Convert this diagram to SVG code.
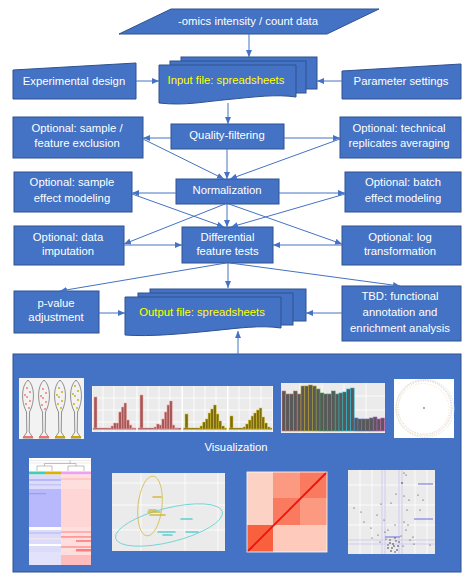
<svg xmlns="http://www.w3.org/2000/svg" width="472" height="581" viewBox="0 0 472 581">
<style>
.box{fill:#4472C4;stroke:#2F528F;stroke-width:1}
.t{font-family:"Liberation Sans",Arial,sans-serif;font-size:11.3px;fill:#ffffff;text-anchor:middle}
.yl{fill:#ffff00}
.c{stroke:#4472C4;stroke-width:1;fill:none;marker-end:url(#ah)}
.bg{fill:#ebebeb}
.gw{stroke:#ffffff;stroke-width:0.8}
.vio{fill:none;stroke:#666;stroke-width:0.7}
.hr{fill:#a55858;stroke:#f3a3a3;stroke-width:0.5}
.ho{fill:#7d6c12;stroke:#d8c226;stroke-width:0.5}
.bar{fill:#595959;stroke-width:0.6}
.pt{fill:#333}
</style>
<defs>
<marker id="ah" markerWidth="7" markerHeight="6" refX="7" refY="3" orient="auto" markerUnits="userSpaceOnUse">
<path d="M0,0 L7,3 L0,6 z" fill="#4472C4"/>
</marker>
<path id="violin" d="M0,380 C7,386 7,402 1.5,412 L1.2,432 L5,438 L-5,438 L-1.2,432 L-1.5,412 C-7,402 -7,386 0,380 Z"/>
</defs>
<rect width="472" height="581" fill="#ffffff"/>

<g id="omics">
<polygon class="box" points="171,9 379,9 327,34 119,34"/>
<text class="t" x="248" y="25">-omics intensity / count data</text>
</g>
<g id="expdesign">
<polygon class="box" points="13,70 136,63 136,99 13,99"/>
<text class="t" x="74" y="85">Experimental design</text>
</g>
<g id="params">
<polygon class="box" points="342,71 461,64 461,99 342,99"/>
<text class="t" x="401" y="85">Parameter settings</text>
</g>
<g id="inputfile">
<rect class="box" x="181" y="57" width="136" height="32"/>
<rect class="box" x="170" y="61" width="136" height="32"/>
<path class="box" d="M159,65 H296 V97 C275,94 255,97 228,99.5 C205,101.5 185,106 159,103 Z"/>
<text class="t yl" x="226" y="84">Input file: spreadsheets</text>
</g>
<g id="qf">
<rect class="box" x="171" y="124" width="113" height="25"/>
<text class="t" x="227" y="139">Quality-filtering</text>
</g>
<g id="sampleexcl">
<rect class="box" x="13" y="117" width="130" height="41"/>
<text class="t" x="77" y="132">Optional: sample /</text>
<text class="t" x="77" y="147">feature exclusion</text>
</g>
<g id="techrep">
<rect class="box" x="340" y="117" width="121" height="41"/>
<text class="t" x="399" y="132">Optional: technical</text>
<text class="t" x="399" y="147">replicates averaging</text>
</g>
<g id="norm">
<rect class="box" x="176" y="179" width="103" height="25"/>
<text class="t" x="227" y="194">Normalization</text>
</g>
<g id="sampleeff">
<rect class="box" x="14" y="172" width="118" height="40"/>
<text class="t" x="72" y="186">Optional: sample</text>
<text class="t" x="72" y="202">effect modeling</text>
</g>
<g id="batcheff">
<rect class="box" x="345" y="172" width="116" height="40"/>
<text class="t" x="403" y="186">Optional: batch</text>
<text class="t" x="403" y="202">effect modeling</text>
</g>
<g id="dft">
<rect class="box" x="182" y="227" width="91" height="36"/>
<text class="t" x="227.5" y="241">Differential</text>
<text class="t" x="227.5" y="255">feature tests</text>
</g>
<g id="imput">
<rect class="box" x="14" y="226" width="110" height="39"/>
<text class="t" x="68" y="241">Optional: data</text>
<text class="t" x="68" y="255">imputation</text>
</g>
<g id="logt">
<rect class="box" x="342" y="226" width="119" height="39"/>
<text class="t" x="400" y="241">Optional: log</text>
<text class="t" x="400" y="255">transformation</text>
</g>
<g id="pval">
<rect class="box" x="14" y="291" width="85" height="42"/>
<text class="t" x="56" y="307">p-value</text>
<text class="t" x="56" y="321">adjustment</text>
</g>
<g id="outputfile">
<rect class="box" x="150" y="289" width="156" height="32"/>
<rect class="box" x="138" y="293" width="155" height="32"/>
<path class="box" d="M125,297 H281 V328 C260,325 240,328 210,331 C185,333.5 150,337 125,335 Z"/>
<text class="t yl" x="202" y="316">Output file: spreadsheets</text>
</g>
<g id="tbd">
<rect class="box" x="342" y="286" width="119" height="55"/>
<text class="t" x="400" y="300">TBD: functional</text>
<text class="t" x="400" y="316">annotation and</text>
<text class="t" x="400" y="332">enrichment analysis</text>
</g>

<g id="visualization">
<rect class="box" x="13" y="354" width="448" height="218"/>
<text class="t" x="236" y="451">Visualization</text>

<g id="thumb-violin">
<rect x="19" y="378" width="65" height="61" fill="#f2f2f2"/>
<use href="#violin" x="28" class="vio"/>
<use href="#violin" x="44" class="vio"/>
<use href="#violin" x="60" class="vio"/>
<use href="#violin" x="76" class="vio"/>
<g fill="#f07070">
<circle cx="27" cy="388" r="0.9"/><circle cx="30" cy="392" r="0.9"/><circle cx="27" cy="397" r="0.9"/><circle cx="30" cy="401" r="0.9"/><circle cx="26" cy="404" r="0.9"/><circle cx="29" cy="408" r="0.9"/><circle cx="25" cy="395" r="0.9"/>
<circle cx="43" cy="389" r="0.9"/><circle cx="46" cy="393" r="0.9"/><circle cx="43" cy="398" r="0.9"/><circle cx="46" cy="402" r="0.9"/><circle cx="42" cy="405" r="0.9"/><circle cx="45" cy="409" r="0.9"/><circle cx="41" cy="396" r="0.9"/>
<rect x="23" y="436" width="10" height="2"/><rect x="39" y="436" width="10" height="2"/>
</g>
<g fill="#c8a800">
<circle cx="59" cy="388" r="0.9"/><circle cx="62" cy="392" r="0.9"/><circle cx="59" cy="397" r="0.9"/><circle cx="62" cy="401" r="0.9"/><circle cx="58" cy="404" r="0.9"/><circle cx="61" cy="408" r="0.9"/><circle cx="57" cy="395" r="0.9"/>
<circle cx="75" cy="386" r="0.9"/><circle cx="78" cy="391" r="0.9"/><circle cx="75" cy="396" r="0.9"/><circle cx="78" cy="400" r="0.9"/><circle cx="74" cy="404" r="0.9"/><circle cx="77" cy="408" r="0.9"/><circle cx="73" cy="394" r="0.9"/>
<rect x="55" y="436" width="10" height="2"/><rect x="71" y="436" width="10" height="2"/>
</g>
</g>

<g id="thumb-hist">
<rect x="92" y="386" width="181" height="46" fill="#ffffff"/>
<rect class="bg" x="92.5" y="386" width="44" height="46"/>
<rect class="bg" x="137.5" y="386" width="44" height="46"/>
<rect class="bg" x="183" y="386" width="44" height="46"/>
<rect class="bg" x="228.5" y="386" width="44" height="46"/>
<g class="gw">
<path d="M103,386V432M114,386V432M125,386V432M148,386V432M159,386V432M170,386V432M194,386V432M205,386V432M216,386V432M239,386V432M250,386V432M261,386V432M92,398H273M92,410H273M92,422H273"/>
</g>
<g class="hr">
<rect x="94" y="397" width="3" height="32"/>
<rect x="93" y="428" width="43" height="1.5"/>
<rect x="111" y="426" width="2.6" height="3"/><rect x="113.6" y="423" width="2.6" height="6"/><rect x="116.2" y="423" width="2.6" height="6"/><rect x="118.8" y="412" width="2.6" height="17"/><rect x="121.4" y="407" width="2.6" height="22"/><rect x="124" y="403" width="2.6" height="26"/><rect x="126.6" y="420" width="2.6" height="9"/><rect x="129.2" y="425" width="2.6" height="4"/><rect x="131.8" y="428" width="2.6" height="1"/>
<rect x="140" y="395" width="3" height="34"/>
<rect x="138" y="428" width="43" height="1.5"/>
<rect x="154" y="427" width="2.6" height="2"/><rect x="156.6" y="424" width="2.6" height="5"/><rect x="159.2" y="425" width="2.6" height="4"/><rect x="161.8" y="419" width="2.6" height="10"/><rect x="164.4" y="412" width="2.6" height="17"/><rect x="167" y="405" width="2.6" height="24"/><rect x="169.6" y="401" width="2.6" height="28"/><rect x="172.2" y="425" width="2.6" height="4"/><rect x="174.8" y="428" width="2.6" height="1"/>
</g>
<g class="ho">
<rect x="185" y="414" width="3" height="15"/>
<rect x="183.5" y="428" width="43" height="1.5"/>
<rect x="200" y="426" width="2.7" height="3"/><rect x="202.7" y="422" width="2.7" height="7"/><rect x="205.4" y="419" width="2.7" height="10"/><rect x="208.1" y="413" width="2.7" height="16"/><rect x="210.8" y="409" width="2.7" height="20"/><rect x="213.5" y="405" width="2.7" height="24"/><rect x="216.2" y="414" width="2.7" height="15"/><rect x="218.9" y="421" width="2.7" height="8"/><rect x="221.6" y="426" width="2.7" height="3"/>
<rect x="230" y="416" width="3" height="13"/>
<rect x="229" y="428" width="43" height="1.5"/>
<rect x="243" y="427" width="2.7" height="2"/><rect x="245.7" y="424" width="2.7" height="5"/><rect x="248.4" y="420" width="2.7" height="9"/><rect x="251.1" y="416" width="2.7" height="13"/><rect x="253.8" y="413" width="2.7" height="16"/><rect x="256.5" y="410" width="2.7" height="19"/><rect x="259.2" y="408" width="2.7" height="21"/><rect x="261.9" y="417" width="2.7" height="12"/><rect x="264.6" y="423" width="2.7" height="6"/><rect x="267.3" y="427" width="2.7" height="2"/>
</g>
</g>

<g id="thumb-bars">
<rect class="bg" x="281" y="383" width="104" height="50"/>
<path class="gw" d="M300,383V433M322,383V433M344,383V433M366,383V433M281,396H385M281,410H385M281,424H385"/>
<g class="bar">
<rect x="282" y="391" width="3.8" height="40" stroke="#e07070"/>
<rect x="285.8" y="394" width="3.8" height="37" stroke="#e07070"/>
<rect x="289.6" y="394" width="3.8" height="37" stroke="#e07070"/>
<rect x="293.4" y="391" width="3.8" height="40" stroke="#e07070"/>
<rect x="297.2" y="394" width="3.8" height="37" stroke="#d08060"/>
<rect x="301" y="386" width="3.8" height="45" stroke="#b8a030"/>
<rect x="304.8" y="386" width="3.8" height="45" stroke="#b8a030"/>
<rect x="308.6" y="385" width="3.8" height="46" stroke="#b8a030"/>
<rect x="312.4" y="386" width="3.8" height="45" stroke="#a8a030"/>
<rect x="316.2" y="389" width="3.8" height="42" stroke="#80a040"/>
<rect x="320" y="393" width="3.8" height="38" stroke="#40a050"/>
<rect x="323.8" y="394" width="3.8" height="37" stroke="#30b050"/>
<rect x="327.6" y="394" width="3.8" height="37" stroke="#30b060"/>
<rect x="331.4" y="391" width="3.8" height="40" stroke="#30b080"/>
<rect x="335.2" y="394" width="3.8" height="37" stroke="#30b0a0"/>
<rect x="339" y="393" width="3.8" height="38" stroke="#30b0b0"/>
<rect x="342.8" y="392" width="3.8" height="39" stroke="#30b0c0"/>
<rect x="346.6" y="389" width="3.8" height="42" stroke="#30c0d0"/>
<rect x="350.4" y="388" width="3.8" height="43" stroke="#30c0e0"/>
<rect x="354.2" y="418" width="3.8" height="13" stroke="#4090d0"/>
<rect x="358" y="419" width="3.8" height="12" stroke="#5080d0"/>
<rect x="361.8" y="419" width="3.8" height="12" stroke="#6070d0"/>
<rect x="365.6" y="419" width="3.8" height="12" stroke="#7070d0"/>
<rect x="369.4" y="418" width="3.8" height="13" stroke="#9060c8"/>
<rect x="373.2" y="417" width="3.8" height="14" stroke="#b060c0"/>
<rect x="377" y="419" width="3.8" height="12" stroke="#c060c0"/>
<rect x="380.8" y="418" width="3.8" height="13" stroke="#d060b0"/>
</g>
</g>

<g id="thumb-circle">
<rect x="394" y="379" width="60" height="59" fill="#ffffff"/>
<circle cx="424" cy="408" r="28" fill="none" stroke="#f4c4c4" stroke-width="0.8" stroke-dasharray="1.5,1"/>
<circle cx="424.5" cy="407.5" r="26.5" fill="none" stroke="#c4c4f4" stroke-width="0.8" stroke-dasharray="1,1.5"/>
<circle cx="425" cy="408.5" r="29" fill="none" stroke="#c4ecc4" stroke-width="0.7" stroke-dasharray="2,1"/>
<circle cx="423.5" cy="409" r="25.5" fill="none" stroke="#f6e0a8" stroke-width="0.7" stroke-dasharray="1.5,1.5"/>
<circle cx="424" cy="408" r="0.9" fill="#888"/>
</g>

<g id="thumb-heatmap">
<rect x="29" y="458" width="62" height="107" fill="#ffffff"/>
<path d="M29,460.5H91M29,463H91" stroke="#e6e6e6" stroke-width="0.8"/>
<path d="M37,471V466H52V471M44.5,466V463.5H76V466M68,471V466H84V471M70,463.5V460.5" fill="none" stroke="#999" stroke-width="0.6"/>
<rect x="29" y="471.5" width="16" height="3" fill="#40d0b0"/>
<rect x="45" y="471.5" width="16" height="3" fill="#e0b000"/>
<rect x="61" y="471.5" width="30" height="3" fill="#f0a0f0"/>
<rect x="29" y="474.5" width="32" height="90.5" fill="#dcdcfa"/>
<rect x="61" y="474.5" width="30" height="90.5" fill="#ffdede"/>
<rect x="29" y="479" width="32" height="2" fill="#b8b8f8"/>
<rect x="29" y="484" width="32" height="1.5" fill="#c4c4f8"/>
<rect x="29" y="489" width="32" height="38" fill="#b8b8fc"/>
<rect x="29" y="493" width="17" height="1.2" fill="#9c9cf4"/>
<rect x="61" y="478" width="30" height="2" fill="#ffc8c8"/>
<rect x="61" y="489" width="30" height="38" fill="#ffd6d6"/>
<rect x="29" y="527" width="32" height="3" fill="#ffffff"/>
<rect x="29" y="532" width="32" height="2" fill="#c8c8f8"/>
<rect x="29" y="538" width="32" height="1.5" fill="#f0e4f0"/>
<rect x="29" y="544" width="32" height="2" fill="#ffffff"/>
<rect x="29" y="552" width="32" height="13" fill="#e2e2fa"/>
<rect x="61" y="531" width="30" height="2" fill="#ffb0b0"/>
<rect x="61" y="536" width="30" height="1.8" fill="#ff9a9a"/>
<rect x="76" y="540" width="15" height="2" fill="#ff8c8c"/>
<rect x="61" y="546" width="30" height="2" fill="#ffa6a6"/>
<rect x="76" y="549" width="15" height="2.5" fill="#ff7c7c"/>
<rect x="61" y="555" width="30" height="10" fill="#ffbcbc"/>
</g>

<g id="thumb-pca">
<rect class="bg" x="112" y="473" width="113" height="78"/>
<path class="gw" d="M141,473V551M185,473V551M218,473V551M112,483H225M112,505H225M112,530H225"/>
<ellipse cx="150" cy="506" rx="12" ry="30" fill="none" stroke="#d4c060" stroke-width="0.9" transform="rotate(6 150 506)"/>
<ellipse cx="169" cy="525" rx="55" ry="17" fill="none" stroke="#70d4d4" stroke-width="0.9" transform="rotate(-14 169 525)"/>
<g stroke="#c8b020" stroke-width="1.6" stroke-linecap="round" opacity="0.8">
<path d="M153,497H161M148,512H160M150,515H165M149,510H156"/>
</g>
<g stroke="#40c8c8" stroke-width="1.6" stroke-linecap="round" opacity="0.8">
<path d="M181,519H192M158,532H175M163,535H172M186,532H198"/>
</g>
</g>

<g id="thumb-corr">
<rect x="247" y="472" width="80" height="80" fill="#fcd2c4"/>
<rect x="273" y="472" width="54" height="53" fill="#fb9a80"/>
<rect x="273" y="498" width="27" height="27" fill="#f97a5e"/>
<rect x="300" y="472" width="27" height="26" fill="#f97a5e"/>
<rect x="247" y="525" width="26" height="27" fill="#f8603e"/>
<rect x="273" y="525" width="54" height="27" fill="#fdcabb"/>
<line x1="247" y1="552" x2="327" y2="472" stroke="#f01010" stroke-width="1.8"/>
<rect x="247" y="472" width="80" height="80" fill="none" stroke="#ffffff" stroke-width="0.8"/>
</g>

<g id="thumb-volcano">
<rect class="bg" x="348" y="470" width="87" height="84"/>
<path class="gw" d="M360,470V554M372,470V554M415,470V554M427,470V554M348,485H435M348,505H435M348,525H435"/>
<path d="M382,470V554M385,470V554M399,470V554M402,470V554M348,540H435M348,544H435" stroke="#cacaf0" stroke-width="0.9"/>
<path d="M418,484H433M414,519H433M385,537H400" stroke="#6a6ae0" stroke-width="1"/>
<g class="pt">
<circle cx="354" cy="508" r="0.6"/><circle cx="361" cy="512" r="0.6"/><circle cx="364" cy="522" r="0.6"/><circle cx="371" cy="528" r="0.6"/><circle cx="372" cy="538" r="0.6"/><circle cx="378" cy="535" r="0.6"/><circle cx="380" cy="542" r="0.6"/><circle cx="385" cy="532" r="0.6"/><circle cx="388" cy="545" r="0.7"/><circle cx="390" cy="540" r="0.7"/><circle cx="392" cy="548" r="0.8"/><circle cx="395" cy="538" r="0.7"/><circle cx="393" cy="544" r="0.8"/><circle cx="397" cy="550" r="0.8"/><circle cx="399" cy="542" r="0.7"/><circle cx="401" cy="536" r="0.6"/><circle cx="403" cy="546" r="0.6"/><circle cx="388" cy="548" r="0.8"/><circle cx="391" cy="551" r="0.8"/><circle cx="394" cy="546" r="0.8"/><circle cx="396" cy="541" r="0.7"/><circle cx="386" cy="539" r="0.6"/><circle cx="406" cy="530" r="0.6"/><circle cx="410" cy="540" r="0.6"/><circle cx="413" cy="537" r="0.6"/><circle cx="408" cy="525" r="0.6"/><circle cx="404" cy="522" r="0.6"/><circle cx="407" cy="510" r="0.6"/><circle cx="409" cy="500" r="0.6"/><circle cx="418" cy="495" r="0.6"/><circle cx="423" cy="500" r="0.6"/><circle cx="420" cy="510" r="0.6"/><circle cx="396" cy="494" r="0.6"/><circle cx="391" cy="503" r="0.6"/><circle cx="404" cy="496" r="0.6"/><circle cx="402" cy="483" r="0.8"/><circle cx="404" cy="473" r="0.6"/><circle cx="406" cy="475" r="0.6"/><circle cx="388" cy="530" r="0.6"/><circle cx="384" cy="520" r="0.6"/><circle cx="395" cy="525" r="0.6"/><circle cx="377" cy="515" r="0.6"/><circle cx="381" cy="504" r="0.6"/><circle cx="398" cy="546" r="0.8"/><circle cx="390" cy="543" r="0.8"/><circle cx="395" cy="552" r="0.7"/><circle cx="414" cy="544" r="0.6"/><circle cx="430" cy="545" r="0.6"/>
</g>
</g>
</g>

<g id="connectors">
<line class="c" x1="249" y1="34" x2="249" y2="57"/>
<line class="c" x1="136" y1="81" x2="159" y2="81"/>
<line class="c" x1="342" y1="81" x2="317" y2="81"/>
<line class="c" x1="228" y1="103" x2="228" y2="124"/>
<line class="c" x1="171" y1="138" x2="143" y2="138"/>
<line class="c" x1="284" y1="138" x2="340" y2="138"/>
<line class="c" x1="227" y1="149" x2="227" y2="179"/>
<line class="c" x1="143" y1="139" x2="224" y2="179"/>
<line class="c" x1="340" y1="139" x2="230" y2="179"/>
<line class="c" x1="176" y1="193" x2="132" y2="193"/>
<line class="c" x1="279" y1="193" x2="345" y2="193"/>
<line class="c" x1="227" y1="204" x2="227" y2="227"/>
<line class="c" x1="132" y1="194" x2="224" y2="227"/>
<line class="c" x1="345" y1="194" x2="231" y2="227"/>
<line class="c" x1="225" y1="204" x2="124" y2="244"/>
<line class="c" x1="229" y1="204" x2="342" y2="244"/>
<line class="c" x1="124" y1="245" x2="182" y2="245"/>
<line class="c" x1="342" y1="245" x2="273" y2="245"/>
<line class="c" x1="226" y1="263" x2="60" y2="291"/>
<line class="c" x1="228" y1="263" x2="228" y2="288"/>
<line class="c" x1="230" y1="263" x2="400" y2="286"/>
<line class="c" x1="99" y1="313" x2="125" y2="313"/>
<line class="c" x1="342" y1="313" x2="306" y2="313"/>
<line class="c" x1="238" y1="354" x2="238" y2="331"/>
</g>
</svg>
